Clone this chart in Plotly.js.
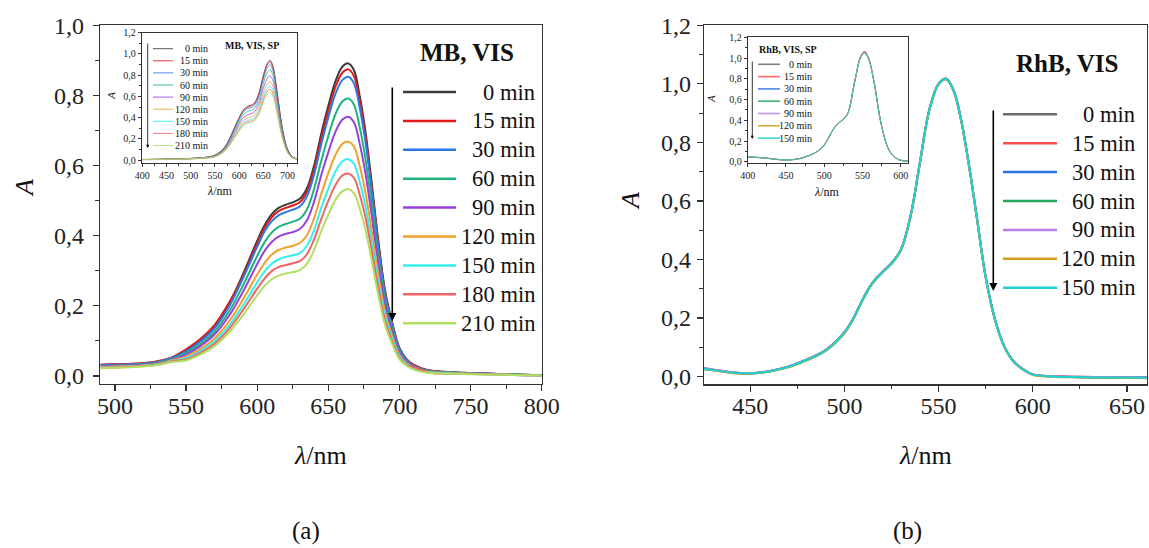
<!DOCTYPE html>
<html><head><meta charset="utf-8">
<script src="https://cdn.plot.ly/plotly-3.0.1.min.js"></script>
<style>html,body{margin:0;padding:0;background:#fff}#chart{width:1149px;height:548px}</style>
</head><body><div id="chart"></div>
<script>
// ---------- DATA ----------
const mbTimes = ['0 min','15 min','30 min','60 min','90 min','120 min','150 min','180 min','210 min'];
const rhTimes = ['0 min','15 min','30 min','60 min','90 min','120 min','150 min'];

// (a) MB, VIS main
const mbWl = [490,500,520,530,540,550,560,570,580,590,600,605,610,615,620,625,630,635,640,645,650,655,660,664,668,672,676,680,685,690,695,700,705,710,720,740,760,780,800];
const mb0   = [0.032,0.033,0.036,0.041,0.052,0.073,0.102,0.142,0.205,0.290,0.385,0.428,0.460,0.479,0.488,0.495,0.505,0.535,0.600,0.690,0.770,0.840,0.882,0.891,0.872,0.800,0.700,0.568,0.390,0.240,0.150,0.080,0.048,0.030,0.016,0.010,0.007,0.004,0.002];
const mb15  = [0.032,0.033,0.036,0.042,0.053,0.076,0.105,0.145,0.207,0.284,0.378,0.420,0.451,0.470,0.479,0.486,0.495,0.525,0.589,0.677,0.755,0.824,0.865,0.874,0.855,0.785,0.687,0.557,0.383,0.235,0.147,0.078,0.047,0.032,0.016,0.010,0.007,0.004,0.002];
const mb30  = [0.031,0.032,0.035,0.040,0.051,0.070,0.098,0.136,0.196,0.278,0.368,0.410,0.440,0.458,0.467,0.474,0.483,0.512,0.574,0.660,0.737,0.804,0.844,0.853,0.834,0.766,0.670,0.544,0.373,0.230,0.144,0.077,0.046,0.029,0.015,0.010,0.007,0.004,0.002];
const mb60  = [0.029,0.030,0.033,0.038,0.049,0.065,0.091,0.126,0.182,0.258,0.342,0.380,0.408,0.425,0.433,0.440,0.448,0.475,0.533,0.613,0.684,0.746,0.783,0.791,0.774,0.710,0.622,0.504,0.346,0.213,0.133,0.071,0.043,0.027,0.014,0.009,0.006,0.004,0.002];
const mb90  = [0.028,0.029,0.032,0.036,0.047,0.061,0.085,0.118,0.170,0.240,0.319,0.355,0.381,0.397,0.405,0.410,0.419,0.444,0.497,0.572,0.638,0.696,0.731,0.739,0.723,0.663,0.580,0.471,0.323,0.199,0.124,0.066,0.040,0.025,0.013,0.008,0.006,0.003,0.002];
const mb120 = [0.026,0.027,0.030,0.034,0.045,0.055,0.077,0.107,0.154,0.218,0.289,0.321,0.345,0.359,0.366,0.371,0.379,0.401,0.450,0.518,0.578,0.630,0.662,0.668,0.654,0.600,0.525,0.426,0.293,0.180,0.113,0.060,0.036,0.023,0.012,0.008,0.005,0.003,0.002];
const mb150 = [0.024,0.025,0.029,0.033,0.043,0.051,0.071,0.099,0.142,0.201,0.267,0.297,0.319,0.332,0.339,0.344,0.350,0.371,0.416,0.479,0.534,0.583,0.612,0.618,0.605,0.555,0.486,0.394,0.271,0.167,0.104,0.056,0.033,0.021,0.011,0.007,0.005,0.003,0.001];
const mb180 = [0.023,0.024,0.028,0.032,0.042,0.047,0.066,0.092,0.133,0.188,0.249,0.277,0.298,0.310,0.316,0.321,0.327,0.347,0.389,0.447,0.499,0.544,0.572,0.577,0.565,0.518,0.454,0.368,0.253,0.156,0.097,0.052,0.031,0.025,0.010,0.006,0.005,0.003,0.001];
const mb210 = [0.022,0.023,0.027,0.031,0.040,0.044,0.061,0.085,0.123,0.173,0.230,0.256,0.275,0.286,0.292,0.296,0.302,0.320,0.359,0.413,0.460,0.502,0.527,0.533,0.521,0.478,0.419,0.340,0.233,0.144,0.090,0.048,0.029,0.018,0.009,0.006,0.004,0.003,0.001];

// (a) inset MB, VIS, SP
const mbInWl = [400,450,500,530,550,570,590,600,610,620,630,640,650,658,664,670,676,682,690,700,710,720];
const mbIn0   = [0.005,0.008,0.015,0.025,0.045,0.120,0.300,0.400,0.480,0.510,0.530,0.620,0.800,0.910,0.940,0.880,0.720,0.520,0.280,0.100,0.030,0.010];
const mbIn15  = [0.005,0.008,0.015,0.025,0.045,0.118,0.296,0.394,0.473,0.502,0.522,0.611,0.788,0.896,0.926,0.867,0.709,0.512,0.276,0.099,0.030,0.010];
const mbIn30  = [0.005,0.008,0.015,0.024,0.043,0.115,0.287,0.382,0.458,0.487,0.506,0.592,0.764,0.869,0.898,0.840,0.688,0.497,0.267,0.096,0.029,0.010];
const mbIn60  = [0.005,0.008,0.014,0.023,0.041,0.109,0.272,0.362,0.434,0.462,0.480,0.561,0.724,0.824,0.851,0.796,0.652,0.471,0.253,0.091,0.027,0.009];
const mbIn90  = [0.005,0.007,0.013,0.022,0.038,0.101,0.254,0.338,0.406,0.431,0.448,0.524,0.676,0.769,0.794,0.744,0.608,0.439,0.237,0.085,0.025,0.008];
const mbIn120 = [0.004,0.007,0.013,0.021,0.035,0.094,0.236,0.314,0.377,0.400,0.416,0.487,0.628,0.714,0.738,0.691,0.565,0.408,0.220,0.079,0.024,0.008];
const mbIn150 = [0.004,0.007,0.012,0.020,0.033,0.089,0.222,0.296,0.355,0.377,0.392,0.459,0.592,0.673,0.696,0.651,0.533,0.385,0.207,0.074,0.022,0.007];
const mbIn180 = [0.004,0.006,0.012,0.019,0.032,0.085,0.213,0.284,0.341,0.362,0.376,0.440,0.568,0.646,0.667,0.625,0.511,0.369,0.199,0.071,0.021,0.007];
const mbIn210 = [0.004,0.006,0.011,0.018,0.031,0.082,0.204,0.272,0.326,0.347,0.360,0.422,0.544,0.619,0.639,0.598,0.490,0.354,0.190,0.068,0.020,0.007];

// (b) RhB, VIS main
const rhWl = [425,430,440,450,460,470,480,490,500,505,510,515,520,525,530,535,540,545,550,554,558,562,566,570,575,580,585,590,595,600,610,620,640,661];
const rh0   = [0.029,0.024,0.015,0.012,0.019,0.034,0.059,0.091,0.152,0.203,0.268,0.322,0.357,0.388,0.434,0.546,0.728,0.910,1.001,1.018,0.978,0.876,0.728,0.558,0.341,0.194,0.102,0.051,0.025,0.008,0.002,0.000,-0.002,-0.003];
const rh15  = [0.028,0.024,0.015,0.012,0.019,0.034,0.058,0.091,0.151,0.202,0.267,0.321,0.356,0.387,0.433,0.545,0.727,0.909,1.000,1.017,0.977,0.875,0.727,0.557,0.340,0.194,0.102,0.051,0.025,0.008,0.002,0.000,-0.002,-0.003];
const rh30  = [0.028,0.023,0.014,0.011,0.018,0.033,0.058,0.090,0.151,0.202,0.267,0.321,0.356,0.387,0.433,0.545,0.727,0.908,0.999,1.016,0.976,0.874,0.726,0.556,0.340,0.193,0.101,0.050,0.024,0.007,0.001,-0.001,-0.003,-0.004];
const rh60  = [0.027,0.023,0.014,0.011,0.018,0.033,0.057,0.089,0.150,0.201,0.266,0.320,0.355,0.386,0.432,0.544,0.726,0.908,0.999,1.015,0.975,0.874,0.726,0.556,0.339,0.193,0.101,0.050,0.024,0.007,0.001,-0.001,-0.003,-0.004];
const rh90  = [0.030,0.025,0.016,0.012,0.019,0.034,0.058,0.090,0.151,0.202,0.267,0.321,0.356,0.387,0.433,0.545,0.727,0.909,1.000,1.016,0.976,0.875,0.727,0.557,0.340,0.193,0.101,0.051,0.025,0.008,0.002,0.000,-0.002,-0.003];
const rh120 = [0.026,0.022,0.013,0.010,0.017,0.031,0.055,0.087,0.147,0.198,0.264,0.318,0.354,0.385,0.431,0.543,0.725,0.907,0.998,1.014,0.974,0.873,0.725,0.555,0.338,0.192,0.100,0.049,0.023,0.006,0.000,-0.002,-0.004,-0.005];
const rh150 = [0.027,0.023,0.014,0.011,0.018,0.033,0.057,0.089,0.150,0.201,0.266,0.320,0.355,0.386,0.432,0.544,0.726,0.908,0.999,1.016,0.976,0.874,0.726,0.556,0.339,0.193,0.101,0.050,0.024,0.007,0.001,-0.001,-0.003,-0.004];

// (b) inset RhB, VIS, SP
const rhInWl = [400,410,425,440,450,460,470,480,490,500,510,515,520,530,540,548,553,558,565,575,585,595,600,610];
const rhIn0   = [0.045,0.043,0.035,0.022,0.018,0.022,0.035,0.060,0.095,0.160,0.290,0.345,0.380,0.455,0.780,1.020,1.060,1.000,0.780,0.350,0.110,0.030,0.015,0.005];
const rhIn15  = [0.045,0.043,0.035,0.022,0.018,0.022,0.035,0.060,0.095,0.160,0.290,0.346,0.381,0.457,0.782,1.024,1.065,1.004,0.782,0.351,0.110,0.030,0.015,0.005];
const rhIn30  = [0.044,0.042,0.034,0.021,0.017,0.021,0.034,0.059,0.094,0.159,0.288,0.344,0.379,0.453,0.776,1.016,1.055,0.996,0.777,0.349,0.109,0.029,0.014,0.004];
const rhIn60  = [0.044,0.042,0.034,0.021,0.017,0.021,0.034,0.059,0.094,0.159,0.288,0.343,0.378,0.452,0.774,1.012,1.050,0.993,0.775,0.348,0.109,0.029,0.014,0.004];
const rhIn90  = [0.046,0.044,0.036,0.022,0.018,0.022,0.035,0.060,0.095,0.161,0.291,0.346,0.381,0.456,0.781,1.022,1.062,1.002,0.781,0.350,0.110,0.030,0.015,0.005];
const rhIn120 = [0.043,0.041,0.033,0.020,0.016,0.020,0.033,0.058,0.093,0.158,0.287,0.342,0.377,0.451,0.773,1.011,1.050,0.992,0.774,0.347,0.108,0.028,0.013,0.004];
const rhIn150 = [0.044,0.042,0.034,0.021,0.017,0.021,0.034,0.059,0.094,0.159,0.288,0.343,0.378,0.451,0.772,1.008,1.045,0.989,0.773,0.347,0.109,0.029,0.014,0.004];

const mbMain = [mb0,mb15,mb30,mb60,mb90,mb120,mb150,mb180,mb210];
const mbIn = [mbIn0,mbIn15,mbIn30,mbIn60,mbIn90,mbIn120,mbIn150,mbIn180,mbIn210];
const rhMain = [rh0,rh15,rh30,rh60,rh90,rh120,rh150];
const rhIn = [rhIn0,rhIn15,rhIn30,rhIn60,rhIn90,rhIn120,rhIn150];

// ---------- STYLE ----------
const mbColors = ['#3c3c3c','#e01b1b','#2a7be4','#1db47a','#9a3fe0','#f0a02a','#35eef0','#f06464','#b0e060'];
const rhColors = ['#6a6a6a','#ff4d4d','#2f72e0','#25a85a','#b57ee8','#d4a017','#1fd2d2'];
const SERIF = 'Liberation Serif';
const W = 1149, H = 548;
const px = v => v / W;
const py = v => 1 - v / H;

const traces = [];
function addSet(wl, sets, colors, xa, ya, width, opacity) {
  sets.forEach((s, i) => traces.push({
    x: wl, y: s, xaxis: xa, yaxis: ya, mode: 'lines', showlegend: false, hoverinfo: 'skip',
    opacity: opacity,
    line: {color: colors[i], width: width, shape: 'spline', smoothing: 1}
  }));
}
addSet(mbWl, mbMain, mbColors, 'x', 'y', 2, 1);
addSet(mbInWl, mbIn, mbColors, 'x2', 'y2', 0.9, 0.85);
addSet(rhWl, rhMain, rhColors, 'x3', 'y3', 2, 1);
addSet(rhInWl, rhIn, rhColors, 'x4', 'y4', 0.9, 0.85);

function axis(o, small) {
  const base = {
    showline: true, linecolor: '#333', linewidth: small ? 1 : 1.3, mirror: true,
    ticks: 'outside', ticklen: small ? 3 : 6, tickwidth: small ? 1 : 1.3, tickcolor: '#333',
    showgrid: false, zeroline: false, fixedrange: true,
    tickfont: {family: SERIF, size: small ? 10 : 24, color: '#222'}
  };
  return Object.assign(base, o);
}
function minor(dt, t0, small) {
  return {ticks: 'outside', ticklen: small ? 2 : 3.5, tickwidth: 1, tickcolor: '#333', dtick: dt, tick0: t0, showgrid: false};
}

const layout = {
  width: W, height: H, margin: {l: 0, r: 0, t: 0, b: 0},
  paper_bgcolor: '#fff', plot_bgcolor: 'rgba(0,0,0,0)',
  separators: ', ',
  showlegend: false,
  font: {family: SERIF},
  xaxis: axis({domain: [px(100), px(541.7)], range: [489.5, 800], dtick: 50, tick0: 500, anchor: 'y', minor: minor(25, 500), ticklabelstandoff: -6}),
  yaxis: axis({domain: [py(384), py(25)], range: [-0.023, 1.0005], dtick: 0.2, tick0: 0, tickformat: '.1f', anchor: 'x', minor: minor(0.1, 0), ticklabelstandoff: 4}),
  xaxis2: axis({domain: [px(141.7), px(297.3)], range: [399, 720], dtick: 50, tick0: 400, anchor: 'y2', minor: minor(25, 400, true)}, true),
  yaxis2: axis({domain: [py(162.7), py(32.7)], range: [-0.025, 1.2005], dtick: 0.2, tick0: 0, tickformat: '.1f', anchor: 'x2', minor: minor(0.1, 0, true)}, true),
  xaxis3: axis({domain: [px(704), px(1147)], range: [425.5, 660.6], dtick: 50, tick0: 450, anchor: 'y3', minor: minor(25, 450), ticklabelstandoff: -6}),
  yaxis3: axis({domain: [py(384.3), py(25)], range: [-0.026, 1.2005], dtick: 0.2, tick0: 0, tickformat: '.1f', anchor: 'x3', minor: minor(0.1, 0), ticklabelstandoff: 1}),
  xaxis4: axis({domain: [px(747.7), px(908.3)], range: [400, 610], dtick: 50, tick0: 400, anchor: 'y4', minor: minor(25, 400, true)}, true),
  yaxis4: axis({domain: [py(163.3), py(37.3)], range: [-0.015, 1.2005], dtick: 0.2, tick0: 0, tickformat: '.1f', anchor: 'x4', minor: minor(0.1, 0, true)}, true),
  shapes: [],
  annotations: []
};

function text(t, x, y, size, opts) {
  layout.annotations.push(Object.assign({
    text: t, x: px(x), y: py(y), xref: 'paper', yref: 'paper', showarrow: false,
    xanchor: 'center', yanchor: 'middle', font: {family: SERIF, size: size, color: '#111'}
  }, opts || {}));
}
function arrow(x, yTop, yBot, w, head) {
  layout.annotations.push({
    text: '', x: px(x), y: py(yBot), xref: 'paper', yref: 'paper', showarrow: true,
    ax: 0, ay: -(yBot - yTop), arrowhead: 2, arrowsize: head, arrowwidth: w, arrowcolor: '#000'
  });
}
function legend(labels, colors, o) {
  labels.forEach((lab, i) => {
    const y = o.y0 + i * o.dy;
    layout.shapes.push({type: 'line', xref: 'paper', yref: 'paper', x0: px(o.lx0), x1: px(o.lx1), y0: py(y), y1: py(y),
      line: {color: colors[i], width: o.lw}, opacity: o.op});
    text(lab, o.tx, y, o.fs, {xanchor: 'right'});
  });
  arrow(o.ax, o.ay0, o.ay1, o.aw, o.ah);
}

// main legends
text('<b>MB, VIS</b>', 466.7, 53, 25);
legend(mbTimes, mbColors, {y0: 92, dy: 28.9, lx0: 403, lx1: 456, tx: 537, fs: 22.5, lw: 2.5, op: 1, ax: 392.3, ay0: 86, ay1: 321, aw: 1.6, ah: 1});
text('<b>RhB, VIS</b>', 1067, 63, 25);
legend(rhTimes, rhColors, {y0: 114.3, dy: 28.9, lx0: 1003, lx1: 1057, tx: 1137, fs: 22.5, lw: 2.5, op: 1, ax: 993.3, ay0: 109, ay1: 291, aw: 1.6, ah: 1});

// inset legends
text('<b>MB, VIS, SP</b>', 252, 45.5, 10);
legend(mbTimes, mbColors, {y0: 48.7, dy: 12.1, lx0: 153, lx1: 173, tx: 209.5, fs: 10, lw: 1, op: 0.85, ax: 147.7, ay0: 42, ay1: 148, aw: 0.8, ah: 0.8});
text('<b>RhB, VIS, SP</b>', 757, 49.3, 10, {xanchor: 'left'});
legend(rhTimes, rhColors, {y0: 64.3, dy: 12.3, lx0: 758, lx1: 780, tx: 813.5, fs: 10, lw: 1.6, op: 0.85, ax: 752.3, ay0: 60, ay1: 139, aw: 0.8, ah: 0.8});

// axis titles
text('<i>A</i>', 24, 188, 26, {textangle: -90});
text('<i>λ</i>/nm', 320, 455, 26);
text('<i>A</i>', 630, 201, 26, {textangle: -90});
text('<i>λ</i>/nm', 925, 455, 26);
text('<i>A</i>', 110.7, 96, 11, {textangle: -90});
text('<i>λ</i>/nm', 220, 191, 12);
text('<i>A</i>', 711.7, 99.3, 11, {textangle: -90});
text('<i>λ</i>/nm', 826.7, 192, 12);

// panel labels
text('(a)', 306, 531, 25);
text('(b)', 907, 531, 25);

Plotly.newPlot('chart', traces, layout, {staticPlot: true, displayModeBar: false});
</script></body></html>
